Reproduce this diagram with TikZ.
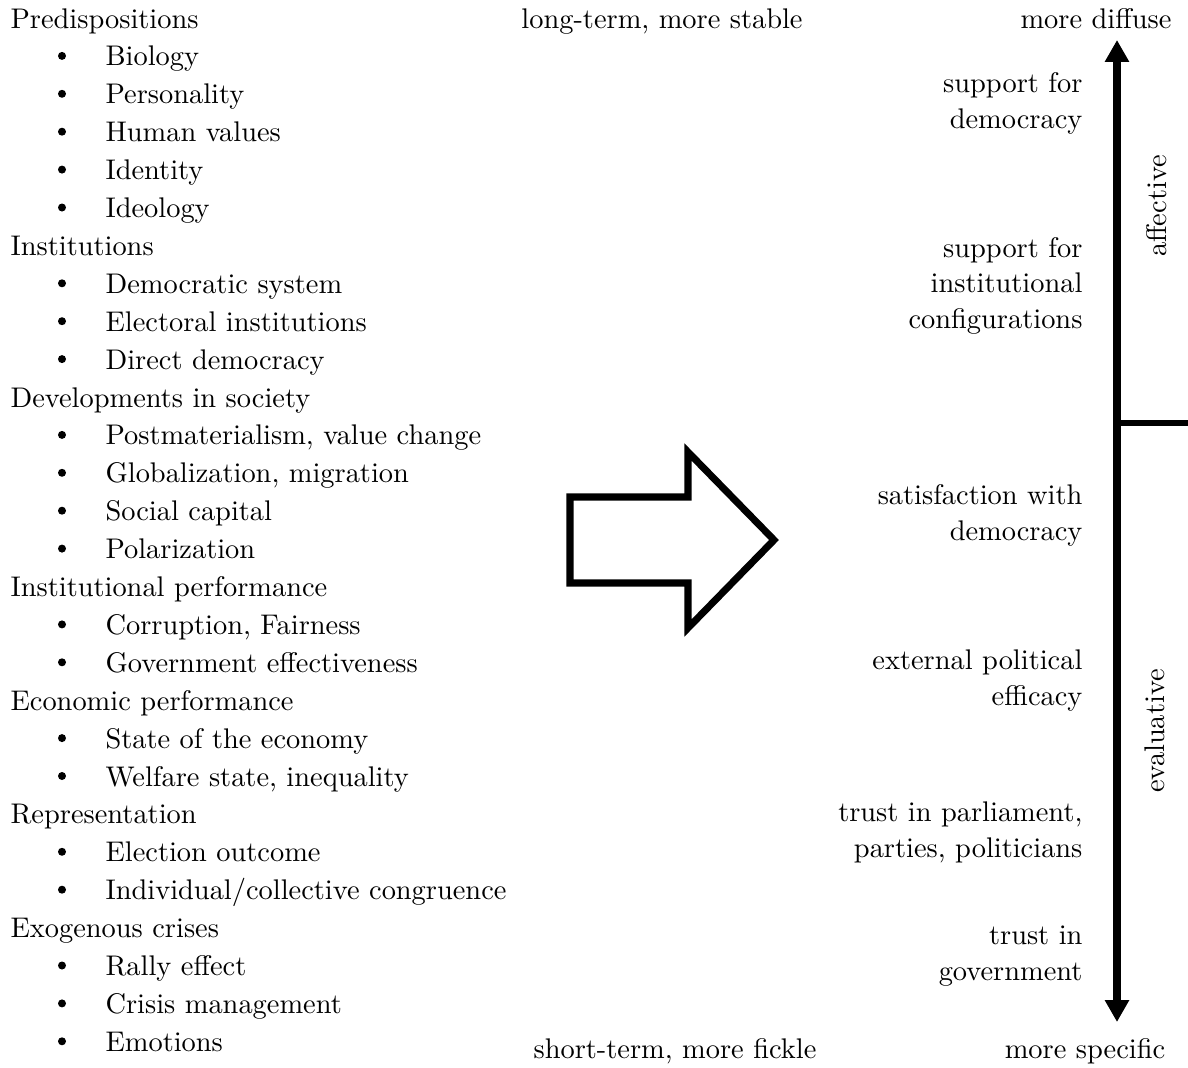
\documentclass[tikz,border=0pt]{standalone}
\usetikzlibrary{arrows.meta}
\begin{document}
\begin{tikzpicture}[x=0.0125cm,y=-0.0125cm,
    every node/.style={inner sep=0pt,font=\fontsize{10.1pt}{12.6pt}\selectfont},
    item/.style={anchor=base west},
    level/.style={anchor=base east,align=right},
    >={Triangle[length=7.8pt,width=8.2pt]}]
    \useasboundingbox (0,0) rectangle (1188,1068);
    % left list
    \node[item] (pre) at (10,28) {Predispositions};
    \node[item] (inst) at (10,255.4) {Institutions};
    \node[item] (dev) at (10,407) {Developments in society};
    \node[item] (perf) at (10,596.5) {Institutional performance};
    \node[item] (econ) at (10,710.2) {Economic performance};
    \node[item] (repr) at (10,823.9) {Representation};
    \node[item] (exo) at (10,937.6) {Exogenous crises};
    \foreach \i/\txt in {1/Biology,2/Personality,3/Human values,4/Identity,5/Ideology,
        7/Democratic system,8/Electoral institutions,9/Direct democracy,
        11/{Postmaterialism, value change},12/{Globalization, migration},13/Social capital,14/Polarization,
        16/{Corruption, Fairness},17/Government effectiveness,
        19/State of the economy,20/{Welfare state, inequality},
        22/Election outcome,23/{Individual/collective congruence},
        25/Rally effect,26/Crisis management,27/Emotions}{
        \node[item] (it\i) at (105,28+37.9*\i) {\txt};
        \fill (62,18+37.9*\i) circle (4);
    }
    % middle
    \node[anchor=base] (long) at (662,28) {long-term, more stable};
    \node[anchor=base] (short) at (675,1058) {short-term, more fickle};
    \draw[line width=2.5pt,miter limit=10] (570,497) -- (688,497) -- (688,452) -- (774,540)
        -- (688,628) -- (688,583) -- (570,583) -- cycle;
    % right axis
    \node[anchor=base] (diff) at (1096,28) {more diffuse};
    \node[anchor=base] (spec) at (1085,1058) {more specific};
    \coordinate (top) at (1117,40);
    \coordinate (bot) at (1117,1022);
    \coordinate (mid) at (1117,423);
    \coordinate (edge) at (1188,423);
    \draw[line width=2.5pt,<->] (bot) -- (top);
    \draw[line width=1.8pt] (mid) -- (edge);
    \node[rotate=90] (aff) at (1157,206) {affective};
    \node[rotate=90] (eval) at (1155,731) {evaluative};
    \node[level] (sd) at (1083,128) {support for\\democracy};
    \node[level] (si) at (1083,328) {support for\\institutional\\configurations};
    \node[level] (sat) at (1083,540) {satisfaction with\\democracy};
    \node[level] (eff) at (1083,705) {external political\\efficacy};
    \node[level] (tp) at (1083,857) {trust in parliament,\\parties, politicians};
    \node[level] (tg) at (1083,980) {trust in\\government};
\end{tikzpicture}
\end{document}
